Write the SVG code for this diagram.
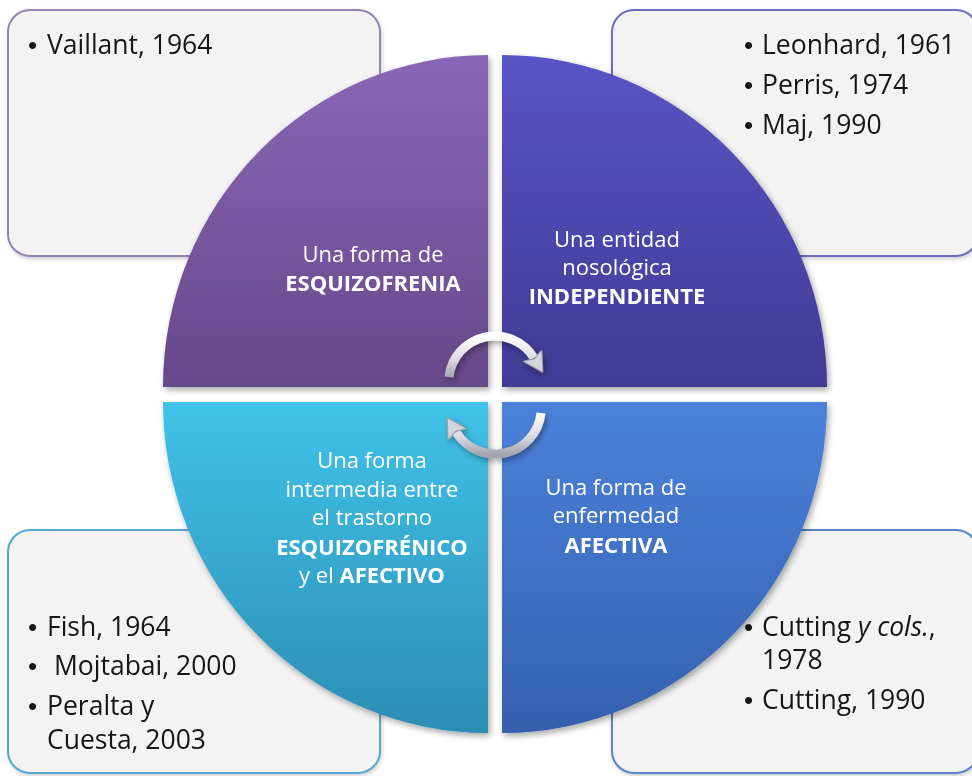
<svg xmlns="http://www.w3.org/2000/svg" width="972" height="776" viewBox="0 0 972 776">
<style>
  .box{fill:#f3f3f3;stroke-width:2}
  .bt{font-family:"Open Sans","Liberation Sans",sans-serif;font-size:26.5px;fill:#141414}
  .bu{font-family:"Liberation Sans",sans-serif;font-size:26px;fill:#141414}
  .qt{font-family:"Open Sans","Liberation Sans",sans-serif;font-size:22px;fill:#fff;text-anchor:middle}
  .b{font-weight:bold}
  .arc{fill:none;stroke:url(#arrowG);stroke-width:9;stroke-linecap:butt}
</style>
<defs>
  <filter id="sh" x="-10%" y="-10%" width="125%" height="125%">
    <feDropShadow dx="2" dy="3" stdDeviation="3" flood-color="#000" flood-opacity="0.35"/>
  </filter>
  <filter id="shb" x="-10%" y="-10%" width="125%" height="125%">
    <feDropShadow dx="1" dy="2" stdDeviation="2" flood-color="#000" flood-opacity="0.2"/>
  </filter>
  <linearGradient id="gTL" x1="0" y1="0" x2="0" y2="1">
    <stop offset="0" stop-color="#8a67b6"/><stop offset="1" stop-color="#664889"/>
  </linearGradient>
  <linearGradient id="gTR" x1="0" y1="0" x2="0" y2="1">
    <stop offset="0" stop-color="#5954c6"/><stop offset="1" stop-color="#3f3b93"/>
  </linearGradient>
  <linearGradient id="gBL" x1="0" y1="0" x2="0" y2="1">
    <stop offset="0" stop-color="#41c2e9"/><stop offset="1" stop-color="#2c8db4"/>
  </linearGradient>
  <linearGradient id="gBR" x1="0" y1="0" x2="0" y2="1">
    <stop offset="0" stop-color="#4b82da"/><stop offset="1" stop-color="#3560ad"/>
  </linearGradient>
  <linearGradient id="arrowG" x1="0" y1="0" x2="0" y2="1">
    <stop offset="0" stop-color="#ffffff"/><stop offset="0.6" stop-color="#d8d8de"/><stop offset="1" stop-color="#a4a4ae"/>
  </linearGradient>
  <marker id="ah" markerUnits="userSpaceOnUse" markerWidth="20" markerHeight="22" viewBox="0 0 20 22" refX="3" refY="11" orient="auto">
    <polygon points="0,0 20,11 0,22 4,11" fill="#d4d4dc" stroke="#9c9ca8" stroke-width="1"/>
  </marker>
</defs>
<rect width="972" height="776" fill="#ffffff"/>

<g id="box-tl" filter="url(#shb)">
  <rect class="box" x="8" y="10" width="372" height="246" rx="22" stroke="#9585b4"/>
  <text><tspan class="bu" x="28" y="54">•</tspan><tspan class="bt" x="47" y="54">Vaillant, 1964</tspan></text>
</g>
<g id="box-tr" filter="url(#shb)">
  <rect class="box" x="612" y="10" width="366" height="246" rx="22" stroke="#6e6cbe"/>
  <text><tspan class="bu" x="744" y="54">•</tspan><tspan class="bt" x="762" y="54">Leonhard, 1961</tspan></text>
  <text><tspan class="bu" x="744" y="94">•</tspan><tspan class="bt" x="762" y="94">Perris, 1974</tspan></text>
  <text><tspan class="bu" x="744" y="134">•</tspan><tspan class="bt" x="762" y="134">Maj, 1990</tspan></text>
</g>
<g id="box-bl" filter="url(#shb)">
  <rect class="box" x="8" y="530" width="372" height="243" rx="22" stroke="#55a9cf"/>
  <text><tspan class="bu" x="28" y="636">•</tspan><tspan class="bt" x="47" y="636">Fish, 1964</tspan></text>
  <text><tspan class="bu" x="28" y="675">•</tspan><tspan class="bt" x="54" y="675">Mojtabai, 2000</tspan></text>
  <text><tspan class="bu" x="28" y="715">•</tspan><tspan class="bt" x="47" y="715">Peralta y</tspan></text>
  <text class="bt"><tspan x="47" y="749">Cuesta, 2003</tspan></text>
</g>
<g id="box-br" filter="url(#shb)">
  <rect class="box" x="612" y="530" width="366" height="243" rx="22" stroke="#5a83c8"/>
  <text><tspan class="bu" x="744" y="636">•</tspan><tspan class="bt" x="762" y="636">Cutting <tspan font-style="italic">y cols.</tspan>,</tspan></text>
  <text class="bt"><tspan x="762" y="669">1978</tspan></text>
  <text><tspan class="bu" x="744" y="709">•</tspan><tspan class="bt" x="762" y="709">Cutting, 1990</tspan></text>
</g>

<g id="q-tl" filter="url(#sh)">
  <path d="M488 387 L163 387 A325 332 0 0 1 488 55 Z" fill="url(#gTL)"/>
  <text class="qt"><tspan x="373" y="262">Una forma de</tspan><tspan class="b" x="373" y="291">ESQUIZOFRENIA</tspan></text>
</g>
<g id="q-tr" filter="url(#sh)">
  <path d="M502 387 L502 55 A325 332 0 0 1 827 387 Z" fill="url(#gTR)"/>
  <text class="qt"><tspan x="617" y="247">Una entidad</tspan><tspan x="617" y="275">nosológica</tspan><tspan class="b" x="617" y="304">INDEPENDIENTE</tspan></text>
</g>
<g id="q-bl" filter="url(#sh)">
  <path d="M488 402 L488 733 A325 331 0 0 1 163 402 Z" fill="url(#gBL)"/>
  <text class="qt"><tspan x="372" y="468">Una forma</tspan><tspan x="372" y="497">intermedia entre</tspan><tspan x="372" y="525">el trastorno</tspan><tspan class="b" x="372" y="555">ESQUIZOFRÉNICO</tspan><tspan x="372" y="583">y el <tspan class="b">AFECTIVO</tspan></tspan></text>
</g>
<g id="q-br" filter="url(#sh)">
  <path d="M502 402 L827 402 A325 331 0 0 1 502 733 Z" fill="url(#gBR)"/>
  <text class="qt"><tspan x="616" y="495">Una forma de</tspan><tspan x="616" y="523">enfermedad</tspan><tspan class="b" x="616" y="553">AFECTIVA</tspan></text>
</g>

<g id="connectors" filter="url(#sh)">
  <path class="arc" d="M449 377 A46 46 0 0 1 534 358" marker-end="url(#ah)"/>
  <path class="arc" d="M541 413 A46 46 0 0 1 456 432" marker-end="url(#ah)"/>
</g>
</svg>
